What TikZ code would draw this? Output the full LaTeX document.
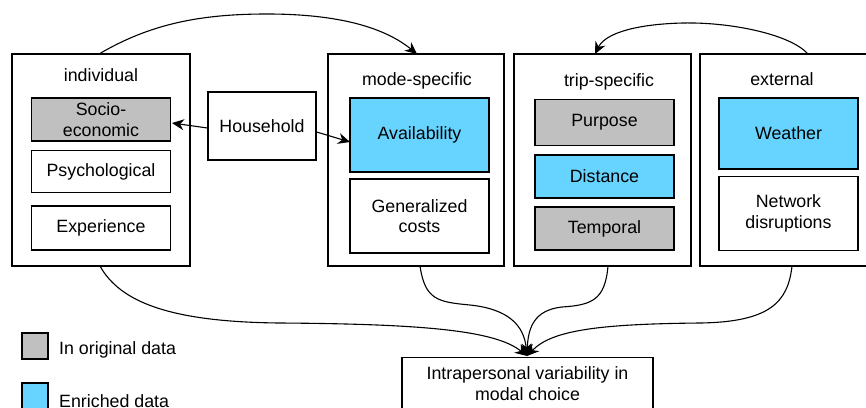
\documentclass[tikz,border=0pt]{standalone}
\usepackage{fontspec}
\setmainfont{Liberation Sans}
\usetikzlibrary{arrows.meta}
\definecolor{origgray}{RGB}{192,192,192}
\definecolor{enrichblue}{RGB}{102,212,255}
\begin{document}
\begin{tikzpicture}[x=1pt,y=-1pt,
  font=\fontsize{17.8}{20.5}\selectfont,
  group/.style={draw=black,line width=1.2pt,fill=white,inner sep=0pt},
  item/.style={draw=black,line width=1.2pt,fill=white,inner sep=0pt,align=center,
    minimum width=139pt},
  graybox/.style={item,fill=origgray},
  bluebox/.style={item,fill=enrichblue},
  title/.style={inner sep=0pt},
  link/.style={line width=1.1pt,-{Stealth[length=12pt,width=11pt]}},
]
\useasboundingbox (0,0) rectangle (866,407);
\clip (0,0) rectangle (866,407);

% category frames
\node[group,minimum width=178pt,minimum height=212pt] (indiv) at (101,160) {};
\node[group,minimum width=176pt,minimum height=212pt] (mode)  at (416,160) {};
\node[group,minimum width=177pt,minimum height=212pt] (trip)  at (602.5,160) {};
\node[group,minimum width=177pt,minimum height=212pt] (ext)   at (788.5,160) {};

\node[title] (tindiv) at (101,75) {individual};
\node[title] (tmode)  at (417,81) {mode-specific};
\node[title] (ttrip)  at (609,82) {trip-specific};
\node[title] (text)   at (782,79) {external};

% individual
\node[graybox,minimum height=43pt] (socio) at (101,119.5) {Socio-\\economic};
\node[item,minimum height=42pt] (psych) at (101,171.5) {Psychological};
\node[item,minimum height=44pt] (exper) at (101,228) {Experience};

% household
\node[item,minimum width=108pt,minimum height=68pt] (house) at (262,126) {Household};

% mode-specific
\node[bluebox,minimum height=74pt] (avail) at (419.5,135) {Availability};
\node[item,minimum height=74pt] (gencost) at (419.5,216) {Generalized\\costs};

% trip-specific
\node[graybox,minimum height=46pt] (purpose) at (604.5,122.5) {Purpose};
\node[bluebox,minimum height=43pt] (dist) at (604.5,176.5) {Distance};
\node[graybox,minimum height=43pt] (temp) at (604.5,228.5) {Temporal};

% external
\node[bluebox,minimum height=71pt] (weather) at (788.5,133.5) {Weather};
\node[item,minimum height=74pt] (netw) at (788.5,213.5) {Network\\disruptions};

% outcome
\node[item,minimum width=251pt,minimum height=64pt,anchor=north] (outcome) at (527.5,357) {};
\node[inner sep=0pt,align=center] (outtext) at (527.5,383.5) {Intrapersonal variability in\\modal choice};

% legend
\node[draw=black,line width=1.2pt,fill=origgray,minimum width=26pt,minimum height=26pt,inner sep=0pt] (leggray) at (35,346) {};
\node[draw=black,line width=1.2pt,fill=enrichblue,minimum width=26pt,minimum height=26pt,inner sep=0pt] (legblue) at (35,396) {};
\node[anchor=west,inner sep=0pt] (leggraytxt) at (59,350) {In original data};
\node[anchor=west,inner sep=0pt] (legbluetxt) at (59,401) {Enriched data};

% connectors
\coordinate (hin) at (172,123);
\coordinate (hout) at (350,142);
\draw[link] (house.west |- 0,128) -- (hin);
\draw[link] (house.east |- 0,132) -- (hout);

\coordinate (indtop) at (99,54);
\coordinate (modetop) at (417,54);
\draw[link] (indtop) .. controls (150,24) and (200,14) .. (267,14)
  .. controls (340,14) and (385,28) .. (modetop);

\coordinate (exttop) at (808,54);
\coordinate (triptop) at (595,54);
\draw[link] (exttop) .. controls (790,34) and (730,22) .. (683,23)
  .. controls (640,24) and (606,32) .. (triptop);

\coordinate (goal) at (527,356);
\coordinate (indbot) at (100,266);
\coordinate (modebot) at (420,266);
\coordinate (tripbot) at (608,266);
\coordinate (extbot) at (792,266);
\draw[link] (indbot) .. controls (120,302) and (170,322) .. (280,323)
  .. controls (420,324) and (495,330) .. (goal);
\draw[link] (modebot) .. controls (425,300) and (438,302) .. (470,305)
  .. controls (508,309) and (524,325) .. (goal);
\draw[link] (tripbot) .. controls (605,300) and (592,305) .. (562,307)
  .. controls (534,310) and (528,328) .. (goal);
\draw[link] (extbot) .. controls (788,302) and (770,322) .. (700,323)
  .. controls (600,324) and (552,330) .. (goal);
\end{tikzpicture}
\end{document}
